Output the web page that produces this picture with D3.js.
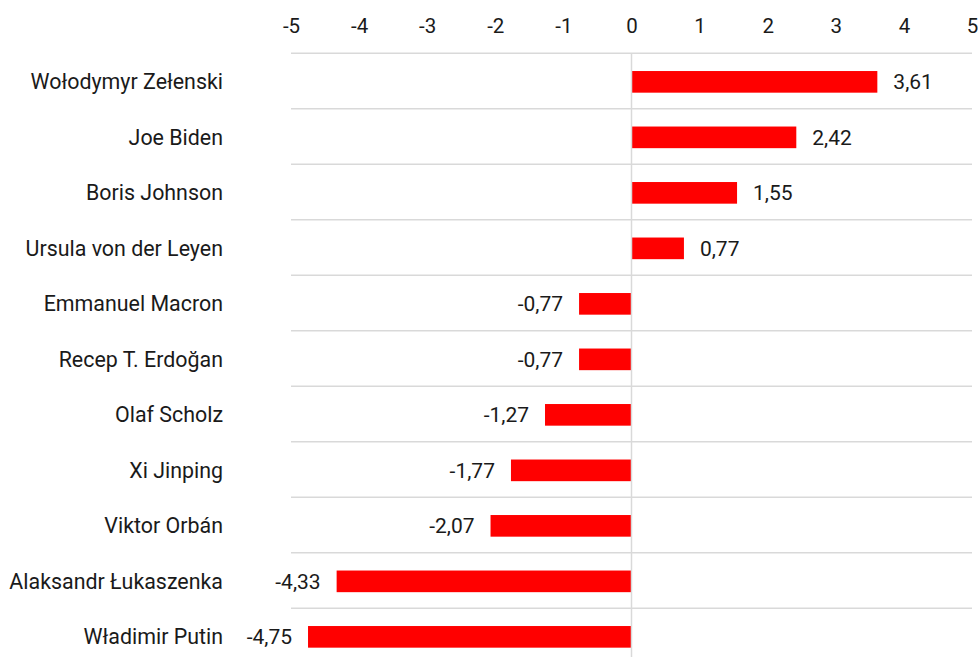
<!DOCTYPE html>
<html>
<head>
<meta charset="utf-8">
<script src="https://cdn.jsdelivr.net/npm/d3@7"></script>
<style>
    body { margin: 0; background: #fff; font-family: Roboto, sans-serif; }
    text { fill: #1a1a1a; }
</style>
</head>
<body>
<svg id="chart"></svg>
<script>
    // data
    var names = ["Wołodymyr Zełenski", "Joe Biden", "Boris Johnson", "Ursula von der Leyen",
        "Emmanuel Macron", "Recep T. Erdoğan", "Olaf Scholz", "Xi Jinping",
        "Viktor Orbán", "Alaksandr Łukaszenka", "Władimir Putin"];
    var values = [3.61, 2.42, 1.55, 0.77, -0.77, -0.77, -1.27, -1.77, -2.07, -4.33, -4.75];
    var ticks = [-5, -4, -3, -2, -1, 0, 1, 2, 3, 4, 5];

    var vWidth = 978, vHeight = 657;
    var svg = d3.select("#chart").attr("width", vWidth).attr("height", vHeight);

    var x = d3.scaleLinear().domain([-5, 5]).range([291, 972]);
    var y = d3.scaleBand().domain(names).range([53.3, 53.3 + 55.5 * names.length]).paddingInner(0.61).paddingOuter(0.305);
    var step = y.step();
    var top0 = 53.3;

    // horizontal grid lines between rows
    var lines = d3.range(names.length + 1).map(function (i) { return top0 + i * step; });
    svg.append("g").selectAll("line").data(lines).enter().append("line")
        .attr("x1", x(-5)).attr("x2", x(5))
        .attr("y1", function (d) { return d; }).attr("y2", function (d) { return d; })
        .attr("stroke", "#d9d9d9").attr("stroke-width", 1.5);

    // top axis
    var axis = svg.append("g").attr("transform", "translate(0,33)")
        .call(d3.axisTop(x).tickValues(ticks).tickSize(0).tickPadding(0)
            .tickFormat(function (d) { return d3.format("d")(d).replace("−", "-"); }));
    axis.select(".domain").remove();
    axis.selectAll("text").attr("font-size", 20.5).attr("font-family", "Roboto, sans-serif").attr("fill", "#1a1a1a");

    // bars
    svg.append("g").selectAll("rect").data(values).enter().append("rect")
        .attr("x", function (d) { return x(Math.min(0, d)); })
        .attr("width", function (d) { return Math.abs(x(d) - x(0)); })
        .attr("y", function (d, i) { return y(names[i]) + 0.8; })
        .attr("height", y.bandwidth())
        .attr("fill", "#ff0000");

    // zero line
    svg.append("line")
        .attr("x1", x(0)).attr("x2", x(0)).attr("y1", top0).attr("y2", vHeight)
        .attr("stroke", "#d9d9d9").attr("stroke-width", 1.5);

    // category labels
    svg.append("g").selectAll("text").data(names).enter().append("text")
        .attr("x", 223)
        .attr("y", function (d) { return y(d) + y.bandwidth() / 2 + 0.8; })
        .attr("dy", "0.35em")
        .attr("text-anchor", "end")
        .attr("font-size", 21.4)
        .text(function (d) { return d; });

    // value labels
    var fmt = function (d) { return d3.format(".2f")(d).replace(".", ",").replace("−", "-"); };
    svg.append("g").selectAll("text").data(values).enter().append("text")
        .attr("x", function (d) { return d >= 0 ? x(d) + 16 : x(d) - 16; })
        .attr("y", function (d, i) { return y(names[i]) + y.bandwidth() / 2 + 0.8; })
        .attr("dy", "0.35em")
        .attr("text-anchor", function (d) { return d >= 0 ? "start" : "end"; })
        .attr("font-size", 21)
        .text(fmt);
</script>
</body>
</html>
